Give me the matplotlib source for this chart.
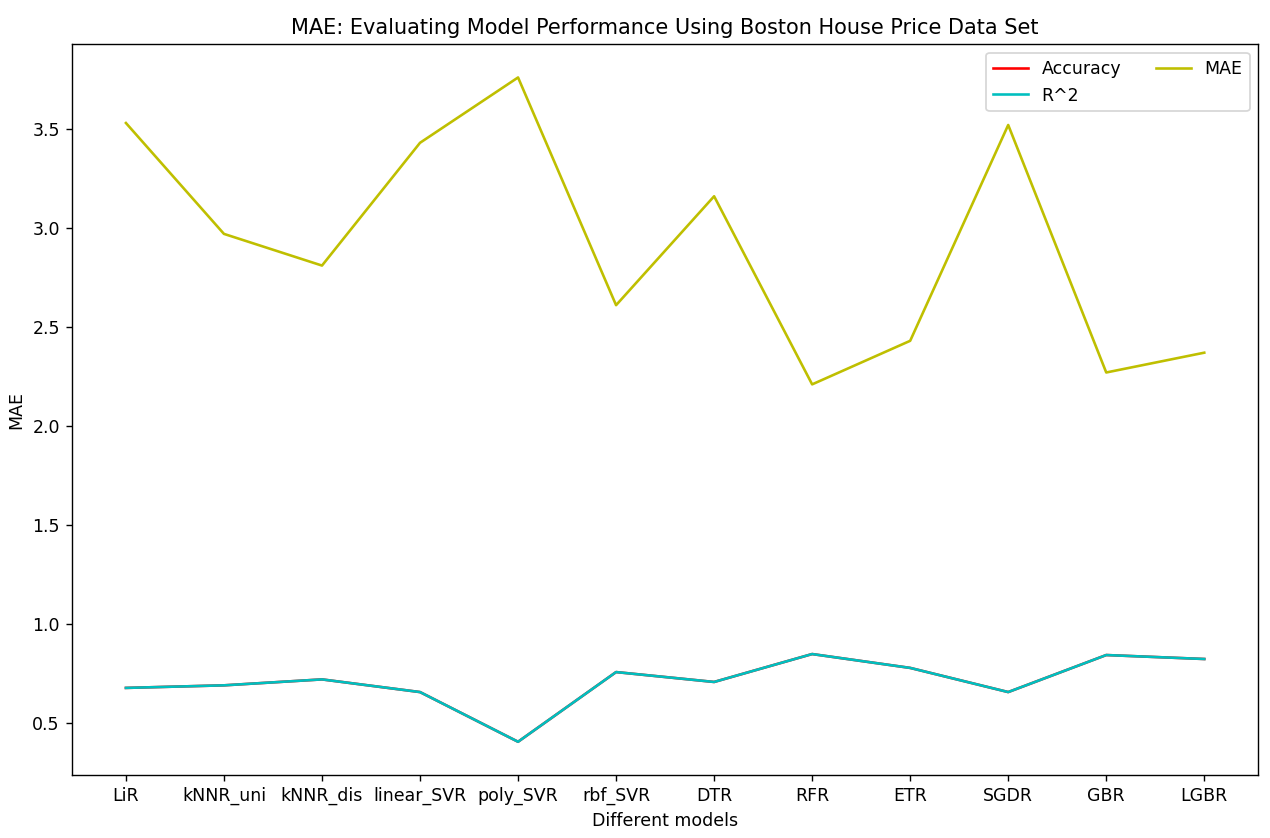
import matplotlib.pyplot as plt

models = ['LiR', 'kNNR_uni', 'kNNR_dis', 'linear_SVR', 'poly_SVR', 'rbf_SVR',
          'DTR', 'RFR', 'ETR', 'SGDR', 'GBR', 'LGBR']
accuracy = [0.677, 0.690, 0.720, 0.656, 0.405, 0.757, 0.707, 0.848, 0.778, 0.656, 0.843, 0.823]
r2 = [0.677, 0.690, 0.720, 0.656, 0.405, 0.757, 0.707, 0.848, 0.778, 0.656, 0.843, 0.823]
mae = [3.53, 2.97, 2.81, 3.43, 3.76, 2.61, 3.16, 2.21, 2.43, 3.52, 2.27, 2.37]

fig = plt.figure(figsize=(1270 / 125, 838 / 125), dpi=125)
ax = fig.add_axes([0.0567, 0.0752, 0.934, 0.872])

ax.plot(models, accuracy, color='r', label='Accuracy')
ax.plot(models, r2, color='c', label='R^2')
ax.plot(models, mae, color='y', label='MAE')

ax.set_title('MAE: Evaluating Model Performance Using Boston House Price Data Set')
ax.set_xlabel('Different models')
ax.set_ylabel('MAE')
ax.legend(ncol=2, loc='upper right')

fig.savefig('out.png', dpi=125)
plt.close(fig)
